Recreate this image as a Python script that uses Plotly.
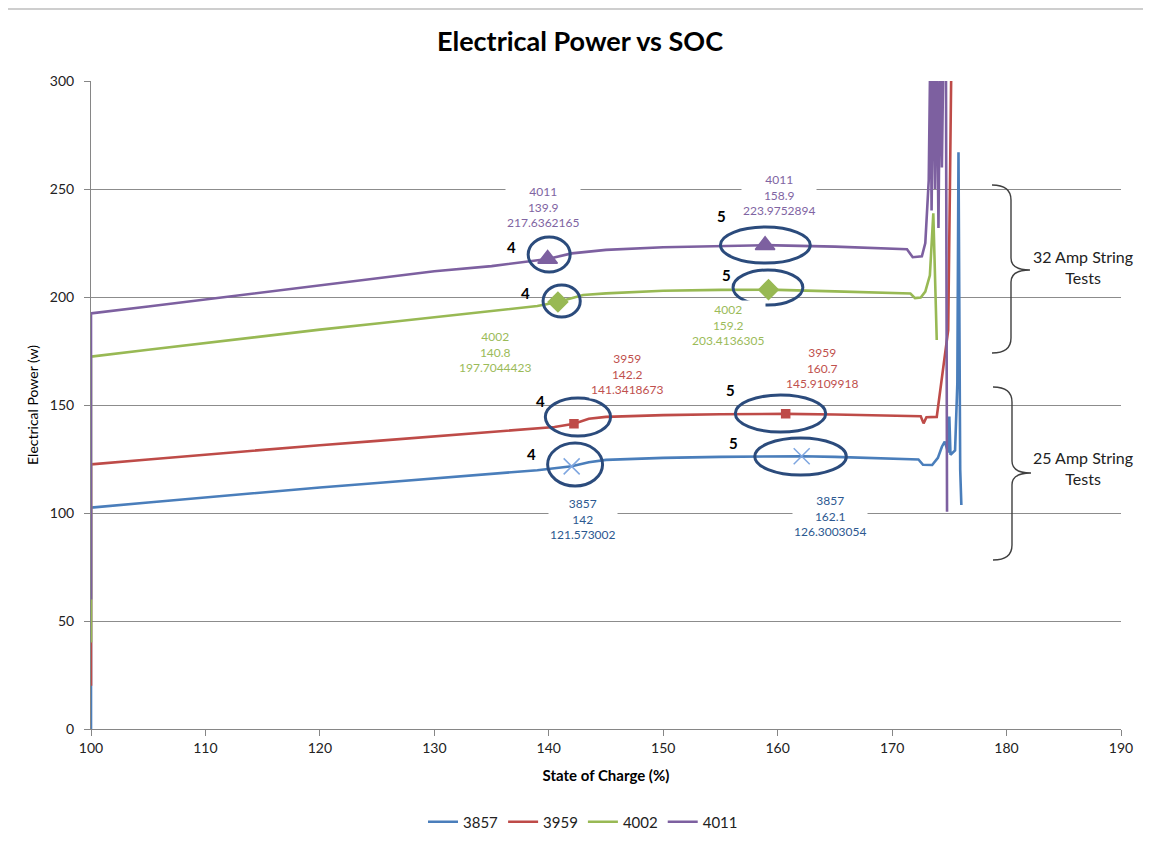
import plotly.graph_objects as go

# ---------------- data ----------------
soc_3857 = [100, 100, 105, 110, 115, 120, 125, 130, 135, 139, 142, 143.5, 145, 150, 155, 160, 162.1, 165, 170,
            172.3, 172.7, 173.5, 174.0, 174.35, 174.6, 174.9, 175.0, 175.1, 175.5, 175.7, 175.8, 175.95, 176.05]
pw_3857 = [0, 102.5, 104.9, 107.3, 109.6, 111.8, 113.9, 116.0, 118.0, 119.8, 121.6, 123.5, 124.6, 125.5, 126.0, 126.2, 126.3, 126.0, 125.2,
           124.8, 122.3, 122.2, 125.5, 130.7, 133.0, 128.0, 144.6, 127.0, 129.0, 160.0, 267.0, 120.0, 103.7]

soc_3959 = [100, 100, 105, 110, 115, 120, 125, 130, 135, 139, 140.5, 142.2, 143.5, 145, 150, 155, 160.7, 165, 170,
            172.5, 172.75, 173.0, 173.9, 174.35, 174.9, 175.05, 175.2]
pw_3959 = [20, 122.5, 124.8, 127.1, 129.3, 131.4, 133.4, 135.4, 137.4, 139.1, 139.8, 141.3, 143.6, 144.5, 145.3, 145.7, 145.9, 145.6, 145.0,
           144.8, 141.5, 144.3, 144.5, 161.6, 184.7, 250.0, 320.0]

soc_4002 = [100, 100, 105, 110, 115, 120, 125, 130, 135, 139, 140.8, 143, 145, 150, 155, 159.2, 165, 170,
            171.6, 172.0, 172.5, 172.9, 173.3, 173.6, 173.75, 173.9]
pw_4002 = [40, 172.4, 175.6, 178.7, 181.9, 184.9, 187.7, 190.6, 193.4, 195.8, 197.7, 200.9, 201.7, 202.9, 203.3, 203.4, 202.6, 201.7,
           201.6, 199.5, 199.8, 202.5, 210.0, 238.7, 205.0, 180.1]

soc_4011 = [100, 100, 105, 110, 115, 120, 125, 130, 135, 138, 139.9, 142, 145, 150, 155, 158.9, 165, 170, 171.3,
            171.8, 172.6, 172.9, 173.2, 173.35, 173.45, 173.6, 173.75, 173.9, 174.05, 174.2, 174.35, 174.5, 174.7, 174.8]
pw_4011 = [60, 192.4, 195.6, 198.9, 202.2, 205.5, 208.7, 211.9, 214.3, 216.4, 217.6, 220.2, 221.8, 223.0, 223.7, 224.0, 223.3, 222.5, 222.1,
           218.4, 218.8, 225.0, 254.0, 320.0, 240.0, 320.0, 250.0, 320.0, 232.0, 320.0, 260.0, 320.0, 320.0, 100.6]

series_names = ["3857", "3959", "4002", "4011"]
series_soc = [soc_3857, soc_3959, soc_4002, soc_4011]
series_pw = [pw_3857, pw_3959, pw_4002, pw_4011]
colors = ["#4A7EBB", "#BE4B48", "#98B954", "#7D60A0"]
label_colors = ["#2C5890", "#C0504D", "#9BBB59", "#8064A2"]

# highlighted points (test "4" and test "5")
pt_soc = [[142.0, 162.1], [142.2, 160.7], [140.8, 159.2], [139.9, 158.9]]
pt_pw = [[121.573002, 126.3003054], [141.3418673, 145.9109918], [197.7044423, 203.4136305], [217.6362165, 223.9752894]]
pt_label_pos = [[(143.0, 97.2), (164.6, 98.6)],
                [(146.8, 164.2), (163.9, 167.3)],
                [(135.3, 174.5), (155.7, 187.0)],
                [(139.5, 241.8), (160.1, 247.2)]]
marker_symbols = ["x-thin-open", "square", "diamond", "triangle-up"]
marker_sizes = [16, 8, 15, 17]
marker_colors = ["#7EA6E0", "#BE4B48", "#98B954", "#7D60A0"]

# ellipses (x0, x1, y0, y1) and test-number labels
ellipses = [(139.9, 144.7, 112.5, 132.4), (158.0, 166.0, 117.6, 134.7),
            (139.7, 145.4, 135.6, 153.2), (156.3, 164.2, 137.5, 154.6),
            (139.5, 142.75, 190.7, 205.6), (156.1, 162.2, 196.3, 212.5),
            (138.2, 141.87, 211.6, 227.8), (155.0, 162.85, 215.7, 232.4)]
test_nums = ["4", "5", "4", "5", "4", "5", "4", "5"]
test_num_pos = [(138.5, 127.2), (156.15, 132.3), (139.25, 151.85), (155.86, 157.0),
                (137.99, 201.7), (155.57, 210.2), (136.76, 223.3), (155.13, 237.6)]

FONT = "Lato"

fig = go.Figure()
for name, xs, ys, c in zip(series_names, series_soc, series_pw, colors):
    fig.add_trace(go.Scatter(x=xs, y=ys, mode="lines", name=name,
                             line=dict(color=c, width=2.6), cliponaxis=True))

for i in range(4):
    fig.add_trace(go.Scatter(x=pt_soc[i], y=pt_pw[i], mode="markers", showlegend=False,
                             marker=dict(symbol=marker_symbols[i], size=marker_sizes[i], color=marker_colors[i],
                                         line=dict(color=marker_colors[i], width=1.5))))

annotations = []
for i in range(4):
    for j in range(2):
        lx, ly = pt_label_pos[i][j]
        txt = f"{series_names[i]}<br>{pt_soc[i][j]:g}<br>{pt_pw[i][j]!r}"
        annotations.append(dict(x=lx, y=ly, xref="x", yref="y", text=txt, showarrow=False,
                                xanchor="center", yanchor="middle",
                                font=dict(family=FONT, size=12, color=label_colors[i]),
                                bgcolor="white", borderpad=1, align="center"))

for t, (tx, ty) in zip(test_nums, test_num_pos):
    annotations.append(dict(x=tx, y=ty, xref="x", yref="y", text=f"<b>{t}</b>", showarrow=False,
                            xanchor="center", yanchor="middle",
                            font=dict(family=FONT, size=15, color="black")))

shapes = []
for (x0, x1, y0, y1) in ellipses:
    shapes.append(dict(type="circle", xref="x", yref="y", x0=x0, x1=x1, y0=y0, y1=y1,
                       line=dict(color="#2B4B7C", width=3)))

# page has an 8px body margin: the figure is offset by 8px in the screenshot
OFF = 8
L, R, T, B = 91, 1121, 81, 729   # plot area in screenshot pixels
W, H = 1151, 842
def px(x):
    return (x - L) / (R - L)
def py(y):
    return (B - y) / (B - T)

def brace(xe, xm, xt, ytop, ytip, ybot):
    pts = [("M", xe, ytop), ("Q", xm, ytop, xm, ytop + 15), ("L", xm, ytip - 12),
           ("Q", xm, ytip, xt, ytip), ("Q", xm, ytip, xm, ytip + 12), ("L", xm, ybot - 15),
           ("Q", xm, ybot, xe, ybot)]
    s = ""
    for p in pts:
        cmd = p[0]
        coords = p[1:]
        vals = []
        for k in range(0, len(coords), 2):
            vals.append(f"{px(coords[k]):.5f},{py(coords[k+1]):.5f}")
        s += cmd + " " + " ".join(vals) + " "
    return s.strip()

shapes.append(dict(type="path", xref="paper", yref="paper", path=brace(992, 1011, 1030, 185, 270, 353),
                   line=dict(color="#404040", width=1.4)))
shapes.append(dict(type="path", xref="paper", yref="paper", path=brace(993, 1012, 1031, 387, 473, 560),
                   line=dict(color="#404040", width=1.4)))
annotations.append(dict(x=px(1083), y=py(267), xref="paper", yref="paper", text="32 Amp String<br>Tests",
                        xanchor="center", yanchor="middle",
                        showarrow=False, font=dict(family=FONT, size=16, color="#222222")))
annotations.append(dict(x=px(1083), y=py(468), xref="paper", yref="paper", text="25 Amp String<br>Tests",
                        xanchor="center", yanchor="middle",
                        showarrow=False, font=dict(family=FONT, size=16, color="#222222")))

# outer chart border
shapes.append(dict(type="rect", xref="paper", yref="paper", x0=px(7), x1=px(1170), y0=py(870), y1=py(9),
                   line=dict(color="#BFBFBF", width=1.5)))

fig.update_layout(
    width=W, height=H,
    margin=dict(l=L - OFF, r=W - (R - OFF), t=T - OFF, b=H - (B - OFF)),
    paper_bgcolor="white", plot_bgcolor="white",
    title=dict(text="<b>Electrical Power vs SOC</b>", x=(580 - OFF) / W, xanchor="center", xref="container",
               y=1 - (42 - OFF) / H, yanchor="middle",
               font=dict(family=FONT, size=27, color="black")),
    font=dict(family=FONT, color="#222222"),
    xaxis=dict(range=[100, 190], dtick=10, showgrid=False, showline=True, linecolor="#868686", linewidth=1,
               ticks="outside", ticklen=6, tickcolor="#868686", zeroline=False,
               tickfont=dict(family=FONT, size=14, color="#222222"),
               title=dict(text="<b>State of Charge (%)</b>", font=dict(family=FONT, size=15, color="black"), standoff=15)),
    yaxis=dict(range=[0, 300], dtick=50, showgrid=True, gridcolor="#8C8C8C", gridwidth=1, showline=True,
               linecolor="#868686", linewidth=1, ticks="outside", ticklen=6, tickcolor="#868686", zeroline=False,
               ticklabelstandoff=7,
               tickfont=dict(family=FONT, size=14, color="#222222"),
               title=dict(text="Electrical Power (w)", font=dict(family=FONT, size=14, color="black"), standoff=7)),
    legend=dict(orientation="h", x=px(583), xanchor="center", y=py(822), yanchor="middle",
                font=dict(family=FONT, size=15, color="#222222"), itemwidth=30),
    annotations=annotations, shapes=shapes, showlegend=True,
)

fig.write_html("out.html")
